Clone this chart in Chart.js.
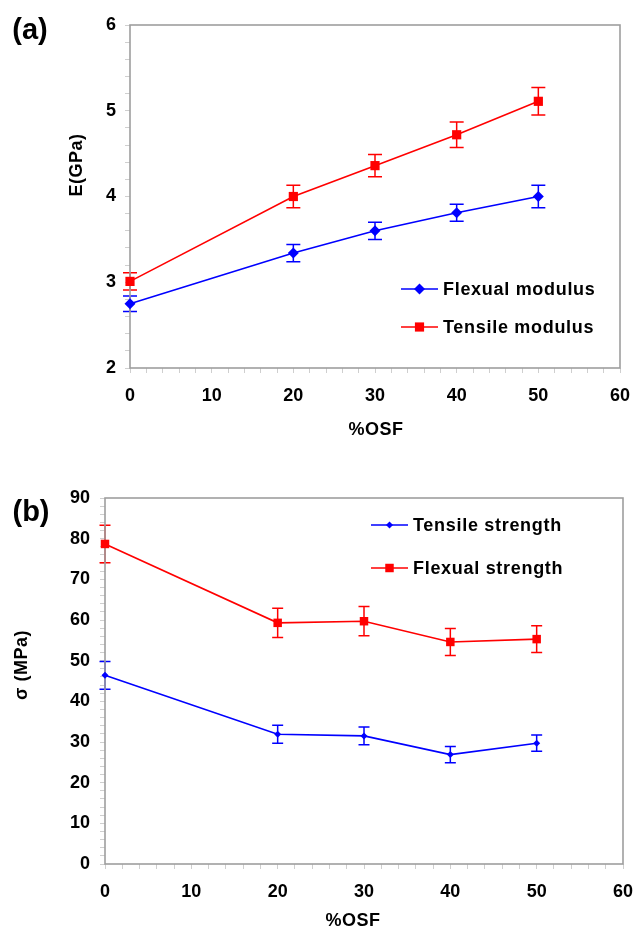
<!DOCTYPE html>
<html>
<head>
<meta charset="utf-8">
<script src="https://cdn.jsdelivr.net/npm/chart.js@4"></script>
<style>
body{margin:0;background:#fff;}
canvas{position:absolute;left:0;}
#chartA{top:0;}
#chartB{top:460px;}
</style>
</head>
<body>
<canvas id="chartA" width="634" height="460"></canvas>
<canvas id="chartB" width="634" height="468"></canvas>
<script>
// values
const osf = [0, 20, 30, 40, 50]
const flexModulus = [2.75, 3.34, 3.6, 3.81, 4.0]
const flexModulusErr = [0.09, 0.1, 0.1, 0.1, 0.13]
const tensModulus = [3.01, 4.0, 4.36, 4.72, 5.11]
const tensModulusErr = [0.1, 0.13, 0.13, 0.15, 0.16]
const tensStrength = [46.4, 31.9, 31.5, 26.9, 29.7]
const tensStrengthErr = [3.4, 2.2, 2.2, 2.0, 2.0]
const flexStrength = [78.7, 59.3, 59.7, 54.6, 55.3]
const flexStrengthErr = [4.6, 3.6, 3.6, 3.3, 3.3]
const xTicks = [0, 10, 20, 30, 40, 50, 60]
const yTicksA = [2, 3, 4, 5, 6]
const yTicksB = [0, 10, 20, 30, 40, 50, 60, 70, 80, 90]

Chart.defaults.font.family = 'Arial, "Liberation Sans", sans-serif'
Chart.defaults.color = '#000'

const toPoints = (xs, ys) => xs.map((x, i) => ({x: x, y: ys[i]}))

const pickLabel = (list, v) => {
    const hit = list.find(t => Math.abs(t - v) < 1e-6)
    return hit === undefined ? '' : String(hit)
}

function drawMarker(ctx, style, x, y, r){
    ctx.beginPath()
    if (style === 'rectRot') {
        ctx.moveTo(x, y - r)
        ctx.lineTo(x + r, y)
        ctx.lineTo(x, y + r)
        ctx.lineTo(x - r, y)
    } else {
        const s = Math.SQRT1_2 * r
        ctx.rect(x - s, y - s, 2 * s, 2 * s)
    }
    ctx.closePath()
    ctx.fill()
}

// error bars drawn under the markers
const errorBars = {
    id: 'errorBars',
    beforeDatasetsDraw(chart){
        const ctx = chart.ctx
        const xs = chart.scales.x
        const ys = chart.scales.y
        chart.data.datasets.forEach(ds => {
            if (!ds.errors) return
            ctx.save()
            ctx.strokeStyle = ds.borderColor
            ctx.lineWidth = 1.5
            ds.data.forEach((p, i) => {
                const x = xs.getPixelForValue(p.x)
                const top = ys.getPixelForValue(p.y + ds.errors[i])
                const bot = ys.getPixelForValue(p.y - ds.errors[i])
                ctx.beginPath()
                ctx.moveTo(x, top); ctx.lineTo(x, bot)
                ctx.moveTo(x - ds.capHalf, top); ctx.lineTo(x + ds.capHalf, top)
                ctx.moveTo(x - ds.capHalf, bot); ctx.lineTo(x + ds.capHalf, bot)
                ctx.stroke()
            })
            ctx.restore()
        })
    }
}

// frame, axis titles, panel letter and the legend inside the plot
const decor = {
    id: 'decor',
    beforeDatasetsDraw(chart, args, opts){
        const ctx = chart.ctx
        const a = chart.chartArea
        ctx.save()
        ctx.strokeStyle = '#9e9e9e'
        ctx.lineWidth = 1.6
        ctx.strokeRect(a.left, a.top, a.right - a.left, a.bottom - a.top)
        ctx.restore()
    },
    afterDraw(chart, args, opts){
        const ctx = chart.ctx
        ctx.save()
        ctx.fillStyle = '#000'
        ctx.textBaseline = 'middle'
        ctx.textAlign = 'center'

        ctx.font = 'bold 29px Arial, "Liberation Sans"'
        ctx.fillText(opts.panel, opts.panelAt[0], opts.panelAt[1])

        ctx.font = 'bold 18px Arial, "Liberation Sans"'
        ctx.letterSpacing = '0.5px'
        ctx.fillText(opts.xTitle, opts.xTitleAt[0], opts.xTitleAt[1])

        ctx.save()
        ctx.translate(opts.yTitleAt[0], opts.yTitleAt[1])
        ctx.rotate(-Math.PI / 2)
        ctx.fillText(opts.yTitle, 0, 0)
        ctx.restore()

        ctx.textAlign = 'left'
        ctx.letterSpacing = '0.7px'
        const lg = opts.legend
        chart.data.datasets.forEach((ds, i) => {
            const y = lg.y[i]
            ctx.strokeStyle = ds.borderColor
            ctx.fillStyle = ds.borderColor
            ctx.lineWidth = 1.5
            ctx.beginPath()
            ctx.moveTo(lg.x0, y)
            ctx.lineTo(lg.x1, y)
            ctx.stroke()
            drawMarker(ctx, ds.pointStyle, (lg.x0 + lg.x1) / 2, y, lg.radius[i])
            ctx.fillStyle = '#000'
            ctx.fillText(ds.label, lg.textX, y + 1)
        })
        ctx.restore()
    }
}

function axisOptions(min, max, step, labels, fixed){
    return {
        type: 'linear',
        min: min,
        max: max,
        border: {display: false},
        grid: {
            display: true,
            drawOnChartArea: false,
            drawTicks: true,
            tickLength: 5,
            color: '#cfcfcf'
        },
        ticks: {
            stepSize: step,
            autoSkip: false,
            maxRotation: 0,
            padding: fixed.padding,
            font: {size: 18, weight: 'bold'},
            callback: v => pickLabel(labels, v)
        },
        afterFit: s => {
            fixed.fit(s)
            // keep the plot edges where the layout padding puts them
            s.paddingLeft = 0
            s.paddingRight = 0
            s.paddingTop = 0
            s.paddingBottom = 0
        }
    }
}

const chartA = new Chart(document.getElementById('chartA'), {
    type: 'line',
    data: {
        datasets: [{
            label: 'Flexual modulus',
            data: toPoints(osf, flexModulus),
            errors: flexModulusErr,
            capHalf: 7,
            borderColor: '#0000ff',
            backgroundColor: '#0000ff',
            borderWidth: 1.6,
            pointStyle: 'rectRot',
            pointRadius: 5.5,
            pointBorderWidth: 0,
            clip: false
        }, {
            label: 'Tensile modulus',
            data: toPoints(osf, tensModulus),
            errors: tensModulusErr,
            capHalf: 7,
            borderColor: '#ff0000',
            backgroundColor: '#ff0000',
            borderWidth: 1.6,
            pointStyle: 'rect',
            pointRadius: 6.5,
            pointBorderWidth: 0,
            clip: false
        }]
    },
    options: {
        responsive: false,
        animation: false,
        layout: {padding: {left: 0, top: 25, right: 14, bottom: 0}},
        scales: {
            x: axisOptions(0, 60, 2, xTicks, {padding: 12, fit: s => { s.height = 92 }}),
            y: axisOptions(2, 6, 0.2, yTicksA, {padding: 9, fit: s => { s.width = 130 }})
        },
        plugins: {
            legend: {display: false},
            tooltip: {enabled: false},
            decor: {
                panel: '(a)', panelAt: [30, 31],
                xTitle: '%OSF', xTitleAt: [376, 430],
                yTitle: 'E(GPa)', yTitleAt: [77, 165],
                legend: {x0: 401, x1: 438, textX: 443, y: [289, 327], radius: [5.5, 6.5]}
            }
        }
    },
    plugins: [errorBars, decor]
})

const chartB = new Chart(document.getElementById('chartB'), {
    type: 'line',
    data: {
        datasets: [{
            label: 'Tensile strength',
            data: toPoints(osf, tensStrength),
            errors: tensStrengthErr,
            capHalf: 5.5,
            borderColor: '#0000ff',
            backgroundColor: '#0000ff',
            borderWidth: 1.6,
            pointStyle: 'rectRot',
            pointRadius: 3.5,
            pointBorderWidth: 0,
            clip: false
        }, {
            label: 'Flexual strength',
            data: toPoints(osf, flexStrength),
            errors: flexStrengthErr,
            capHalf: 5.5,
            borderColor: '#ff0000',
            backgroundColor: '#ff0000',
            borderWidth: 1.6,
            pointStyle: 'rect',
            pointRadius: 6,
            pointBorderWidth: 0,
            clip: false
        }]
    },
    options: {
        responsive: false,
        animation: false,
        layout: {padding: {left: 0, top: 38, right: 11, bottom: 0}},
        scales: {
            x: axisOptions(0, 60, 2, xTicks, {padding: 12, fit: s => { s.height = 64 }}),
            y: axisOptions(0, 90, 2, yTicksB, {padding: 10, fit: s => { s.width = 105 }})
        },
        plugins: {
            legend: {display: false},
            tooltip: {enabled: false},
            decor: {
                panel: '(b)', panelAt: [31, 53],
                xTitle: '%OSF', xTitleAt: [353, 461],
                yTitle: 'σ (MPa)', yTitleAt: [22, 205],
                legend: {x0: 371, x1: 408, textX: 413, y: [65, 108], radius: [3.5, 6]}
            }
        }
    },
    plugins: [errorBars, decor]
})
</script>
</body>
</html>
